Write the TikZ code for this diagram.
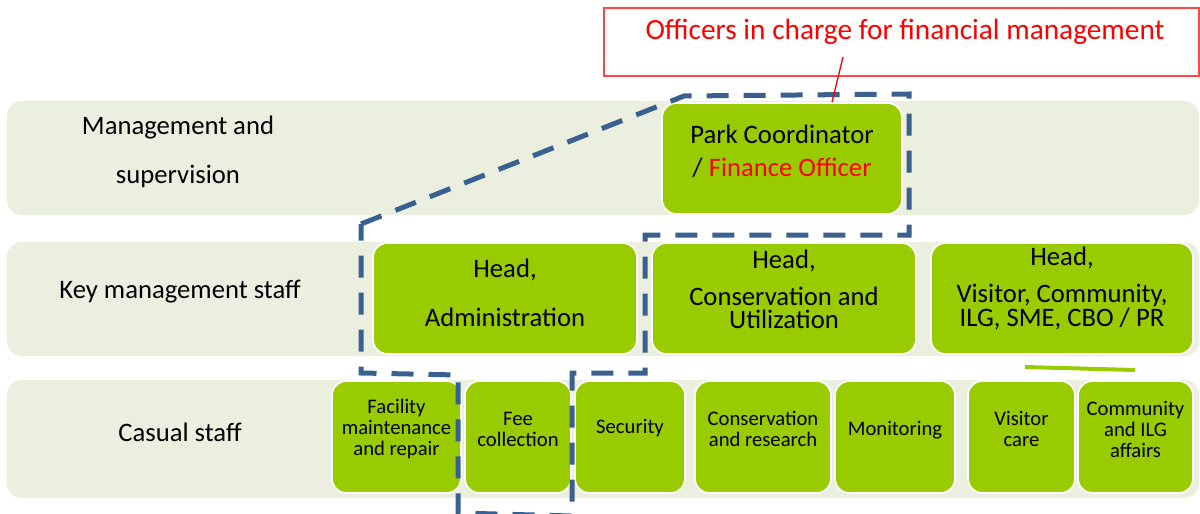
\documentclass[tikz,border=0pt]{standalone}
\usepackage{fontspec}
\setmainfont{Carlito}
\definecolor{bandcol}{HTML}{EBEFDF}
\definecolor{leafcol}{HTML}{99CC00}
\definecolor{dashcol}{HTML}{3A6090}
\definecolor{redtxt}{HTML}{FF0000}
\definecolor{redframe}{HTML}{FF4545}
\newcommand\pbox[6]{\node[#2, minimum width={(#5-#3)*0.75pt}, minimum height={(#6-#4)*0.75pt}] (#1) at ({(#3+#5)/2},{(#4+#6)/2}) {};}
\tikzset{
  bandst/.style={rectangle, fill=bandcol, draw=none, rounded corners=11pt, inner sep=0pt},
  gbox/.style={rectangle, fill=leafcol, draw=white, line width=1.2pt, rounded corners=11pt, inner sep=0pt},
  notest/.style={rectangle, draw=redframe, line width=1pt, inner sep=0pt},
  bigtxt/.style={font=\fontsize{20}{17}\selectfont, align=center, inner sep=0pt},
  smalltxt/.style={font=\fontsize{15.5}{15.75}\selectfont, align=center, inner sep=0pt},
  dashline/.style={draw=dashcol, line width=3.75pt, dash pattern=on 16.5pt off 11.25pt},
}
\begin{document}
\begin{tikzpicture}[x=0.75pt,y=-0.75pt]
\useasboundingbox (0,0) rectangle (1200,514);
% bands
\pbox{band1}{bandst}{7}{101}{1199}{215}
\pbox{band2}{bandst}{7}{242}{1199}{356}
\pbox{band3}{bandst}{7}{380}{1199}{498}
\node[bigtxt] (mgmtT) at (178,152) {Management and\\[19pt]supervision};
\node[bigtxt] (keyT) at (180,292) {Key management staff};
\node[bigtxt] (casT) at (180,432) {Casual staff};
% boxes
\pbox{park}{gbox}{662}{103}{902}{214}
\pbox{admin}{gbox}{373}{243}{637}{354}
\pbox{cons}{gbox}{652}{243}{916}{354}
\pbox{visit}{gbox}{931}{243}{1193}{354}
\pbox{fac}{gbox}{332}{381}{461}{493}
\pbox{fee}{gbox}{465}{381}{571}{493}
\pbox{sec}{gbox}{575}{381}{685}{493}
\pbox{cres}{gbox}{695}{381}{831}{493}
\pbox{mon}{gbox}{835}{381}{955}{493}
\pbox{vcare}{gbox}{968}{381}{1075}{493}
\pbox{comm}{gbox}{1078}{381}{1193}{493}
\node[bigtxt] (parkT) at ([yshift=5.25pt]park.center) {Park Coordinator\\[7.75pt]/ \textcolor{redtxt}{Finance Officer}};
\node[bigtxt] (adminT) at ([yshift=4.5pt]admin.center) {Head,\\[19.75pt]Administration};
\node[bigtxt] (consT) at ([yshift=6.75pt]cons.center) {Head,\\[10.75pt]Conservation and\\Utilization};
\node[bigtxt] (visitT) at ([yshift=7.5pt]visit.center) {Head,\\[10.25pt]Visitor, Community,\\ILG, SME, CBO / PR};
\node[smalltxt] (facT) at ([yshift=6pt]fac.center) {Facility\\maintenance\\and repair};
\node[smalltxt] (feeT) at ([yshift=6pt]fee.center) {Fee\\collection};
\node[smalltxt] (secT) at ([yshift=6.75pt]sec.center) {Security};
\node[smalltxt] (cresT) at ([yshift=6pt]cres.center) {Conservation\\and research};
\node[smalltxt] (monT) at ([yshift=5.25pt]mon.center) {Monitoring};
\node[smalltxt] (vcareT) at ([yshift=6pt]vcare.center) {Visitor\\care};
\node[smalltxt] (commT) at ([yshift=6pt]comm.center) {Community\\and ILG\\affairs};
% small green bar
\coordinate (barA) at (1025,367);
\coordinate (barB) at (1135,370);
\draw[leafcol, line width=3pt] (barA) -- (barB);
% dashed outline of finance officers
\draw[dashline] (361,224) -- (684,96) -- (909,94) -- (909,235) -- (645,235) -- (645,373) -- (572,373) -- (572,516) -- (458,513) -- (458,375) -- (361,373) -- cycle;
% note
\pbox{note}{notest}{604}{8}{1199}{76}
\node[font=\fontsize{22}{24}\selectfont, text=redtxt, inner sep=0pt] (noteT) at (905,32) {Officers in charge for financial management};
\coordinate (noteEnd) at (843,57);
\draw[redtxt, line width=1pt] (noteEnd) -- ([xshift=37.5pt]park.north);
\end{tikzpicture}
\end{document}
